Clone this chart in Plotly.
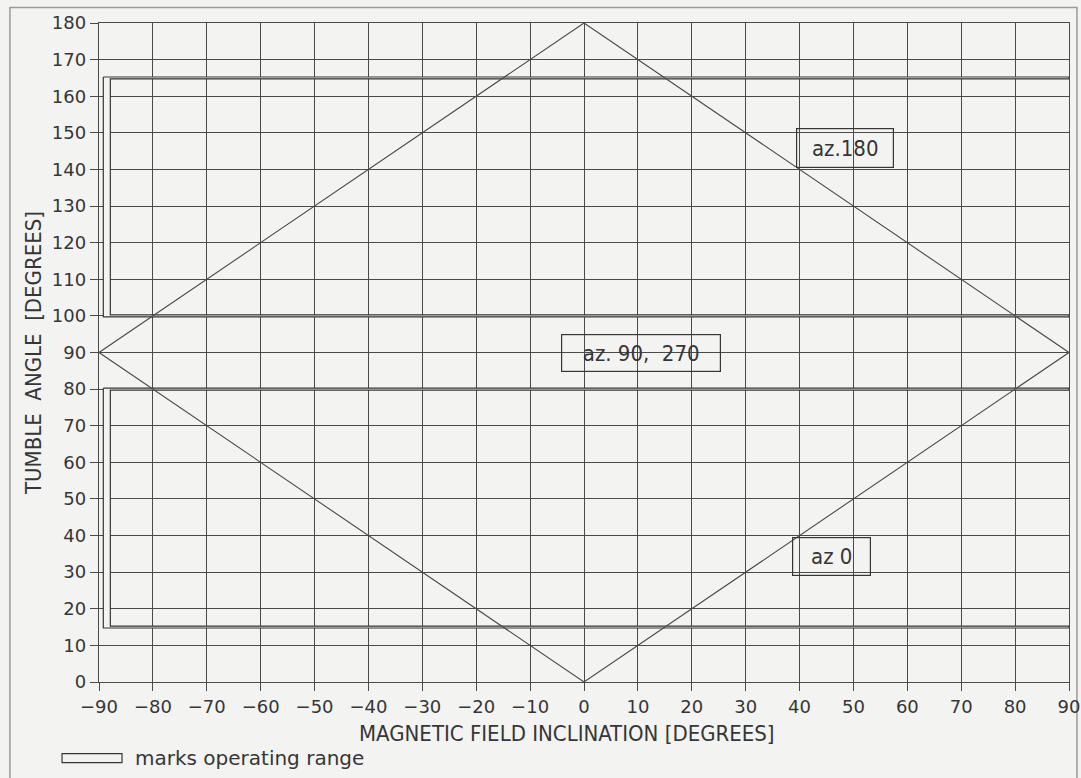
import plotly.graph_objects as go

# Diamond of azimuth curves: magnetic field inclination vs tumble angle
diamond_incl = [-90, 0, 90, 0, -90]
diamond_tumble = [90, 180, 90, 0, 90]

# Operating ranges of tumble angle (degrees)
range_low = [15, 80]
range_high = [100, 165]
mark_x_outer = -89.2
mark_x_inner = -87.9
band = 0.25

# Azimuth labels: (inclination, tumble, text, box width, box height)
label_x = [48.4, 10.6, 45.9]
label_y = [145.8, 90.0, 34.2]
label_text = ["az.180", "az. 90,\u00a0\u00a0270", "az 0"]
label_w = [94, 156, 75]
label_h = [36, 34, 35]

x_ticks = list(range(-90, 91, 10))
y_ticks = list(range(0, 181, 10))

INK = "#363636"
GRID = "#4a4a4a"
BG = "#f3f3f1"
FONT = "DejaVu Sans"
FONT_C = "DejaVu Sans Condensed"


def c_shape(lo, hi):
    """Closed outline of an operating-range mark: vertical strip at the left
    edge with thin horizontal bands at both ends of the range."""
    xs = [mark_x_outer, 90, 90, mark_x_inner, mark_x_inner, 90, 90,
          mark_x_outer, mark_x_outer]
    ys = [hi + band, hi + band, hi - band, hi - band, lo + band, lo + band,
          lo - band, lo - band, hi + band]
    return xs, ys


fig = go.Figure()

for lo, hi in [range_low, range_high]:
    xs, ys = c_shape(lo, hi)
    fig.add_trace(go.Scatter(
        x=xs, y=ys, mode="lines", fill="toself", fillcolor=BG,
        line=dict(color=INK, width=1.2), showlegend=False, hoverinfo="skip"))

fig.add_trace(go.Scatter(
    x=diamond_incl, y=diamond_tumble, mode="lines",
    line=dict(color=GRID, width=1.1), showlegend=False, hoverinfo="skip"))

for lx, ly, lt, w, h in zip(label_x, label_y, label_text, label_w, label_h):
    fig.add_annotation(
        x=lx, y=ly, text=lt, showarrow=False, width=w, height=h,
        font=dict(family=FONT_C, size=22, color=INK),
        bordercolor=INK, borderwidth=1.2, borderpad=1)

# x-axis title, set slightly left of the plot centre
fig.add_annotation(xref="paper", yref="paper", x=0.4825, y=-0.0782,
                   xanchor="center", yanchor="middle", showarrow=False,
                   text="MAGNETIC FIELD INCLINATION [DEGREES]",
                   font=dict(family=FONT_C, size=22, color=INK))

# legend key: hollow bar followed by its caption
fig.add_shape(type="rect", xref="paper", yref="paper",
              x0=-0.0381, x1=0.0237, y0=-0.1222, y1=-0.1086,
              line=dict(color=INK, width=1.2), fillcolor=BG)
fig.add_annotation(xref="paper", yref="paper", x=0.0351, y=-0.1147,
                   xanchor="left", yanchor="middle", showarrow=False,
                   text="marks operating range",
                   font=dict(family=FONT, size=20, color=INK))

# page frame
fig.add_shape(type="rect", xref="paper", yref="paper",
              x0=-0.0918, x1=1.0082, y0=-0.2, y1=1.0236,
              line=dict(color="#9a9a9a", width=1.5), layer="below")

axis_common = dict(
    showgrid=True, gridcolor=GRID, gridwidth=1.3,
    showline=True, linecolor=GRID, linewidth=1.4, mirror=True,
    ticks="outside", ticklen=8, tickcolor=GRID, tickwidth=1.2,
    zeroline=False, automargin=False,
    tickfont=dict(family=FONT, size=18, color=INK),
    title_font=dict(family=FONT_C, size=22, color=INK),
)

fig.update_xaxes(
    range=[-90, 90], tickvals=x_ticks,
    ticktext=[str(v).replace("-", "\u2212") for v in x_ticks],
    **axis_common)
fig.update_yaxes(
    range=[0, 180], tickvals=y_ticks,
    title_text="TUMBLE\u00a0\u00a0ANGLE\u00a0\u00a0[DEGREES]", title_standoff=4,
    **axis_common)

fig.update_layout(
    width=1081, height=778,
    margin=dict(l=99, r=12, t=23, b=96),
    paper_bgcolor=BG, plot_bgcolor=BG,
    showlegend=False,
)

fig.write_html("out.html")
